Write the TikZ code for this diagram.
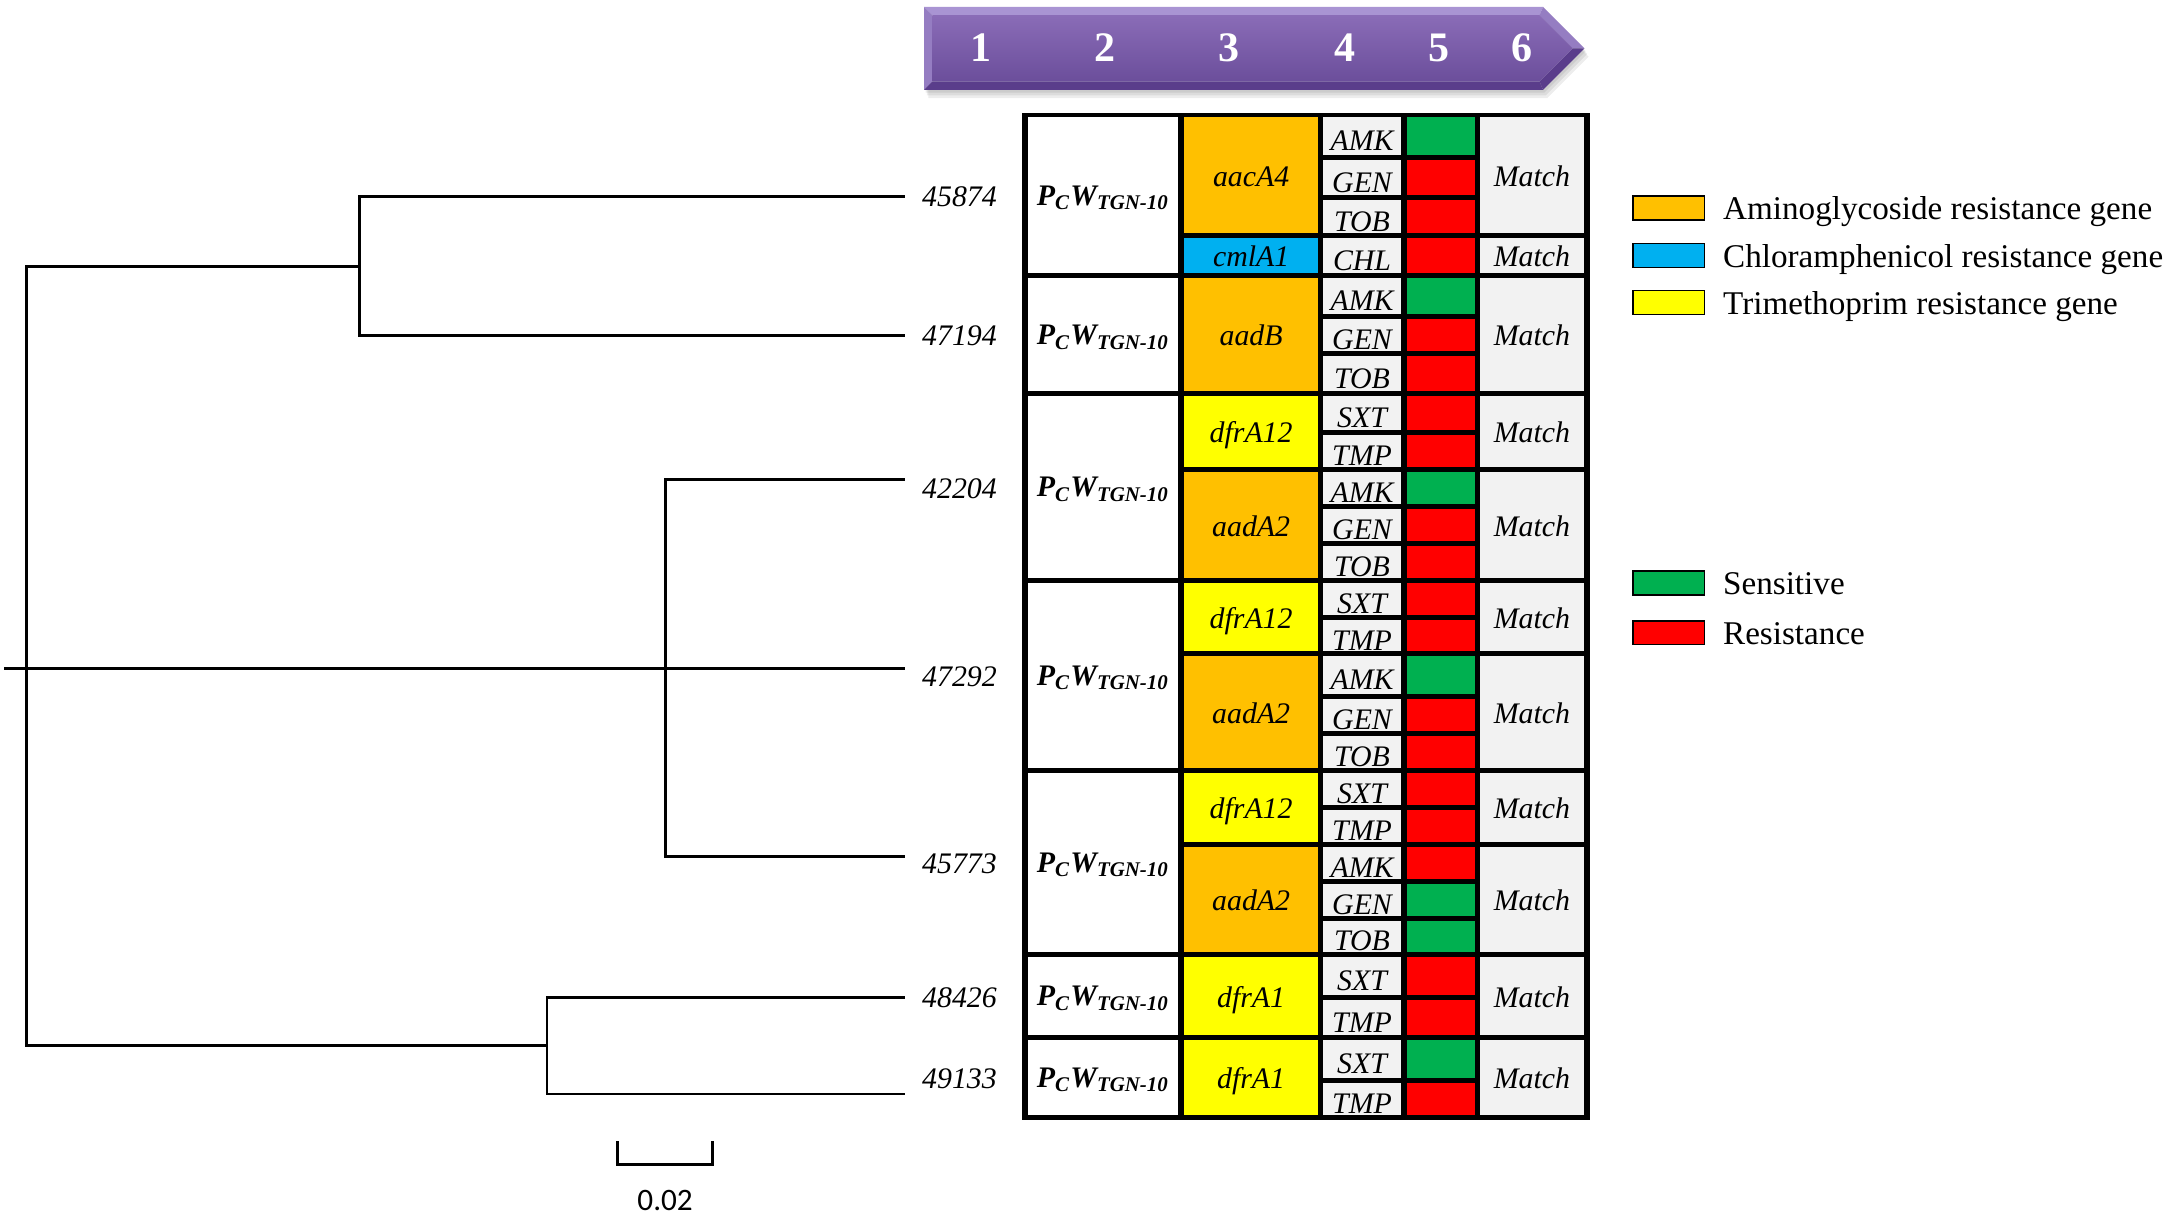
\documentclass[tikz,border=0pt]{standalone}
\usepackage{fontspec}
\setmainfont{Liberation Serif}
\newfontfamily\barfont{Carlito}

\definecolor{amino}{HTML}{FFC000}
\definecolor{chloram}{HTML}{00B0F0}
\definecolor{trimeth}{HTML}{FFFF00}
\definecolor{sens}{HTML}{00B050}
\definecolor{res}{HTML}{FF0000}
\definecolor{cellgrey}{HTML}{F2F2F2}
\definecolor{bevlight}{HTML}{A994D3}
\definecolor{bevside}{HTML}{957DC2}
\definecolor{bevdark}{HTML}{5A3D8B}
\definecolor{arrowtop}{HTML}{8A6CB7}
\definecolor{arrowbot}{HTML}{6B4E9B}

\begin{document}
\begin{tikzpicture}[x=0.5pt, y=-0.5pt,
    branch/.style={line width=1pt},
    celltext/.style={anchor=base, inner sep=0pt, font=\fontsize{10.8}{12}\selectfont\itshape},
    pctext/.style={anchor=base, inner sep=0pt, font=\fontsize{10.8}{12}\selectfont\bfseries\itshape},
    stepnum/.style={anchor=base, inner sep=0pt, text=white, font=\fontsize{15.2}{16}\selectfont\bfseries},
    legendbox/.style={draw=black, line width=0.5pt},
    legendtext/.style={anchor=base west, inner sep=0pt, font=\fontsize{12}{14}\selectfont}]

    % Page
    \fill[white] (0,0) rectangle (1568,880);
    \useasboundingbox (0,0) rectangle (1568,880);

    % Step arrow, shadow first
    \foreach \s in {2,4,6}
    {
        \fill[black, opacity=0.07] (669+\s/2,5+\s) -- (1117+\s/2,5+\s) -- (1147+\s/2,35+\s) -- (1117+\s/2,65+\s) -- (669+\s/2,65+\s) -- cycle;
    }
    % Bevel bands
    \fill[bevlight] (669,5) -- (1117,5) -- (1114.5,11) -- (675,11) -- cycle;
    \fill[bevside] (669,5) -- (675,11) -- (675,59) -- (669,65) -- cycle;
    \fill[bevdark] (669,65) -- (1117,65) -- (1114.5,59) -- (675,59) -- cycle;
    \fill[bevside] (1117,5) -- (1147,35) -- (1138.5,35) -- (1114.5,11) -- cycle;
    \fill[bevdark] (1147,35) -- (1117,65) -- (1114.5,59) -- (1138.5,35) -- cycle;
    % Arrow face
    \shade[top color=arrowtop, bottom color=arrowbot] (675,11) -- (1114.5,11) -- (1138.5,35) -- (1114.5,59) -- (675,59) -- cycle;
    \foreach \x [count=\i] in {710,800,890,974,1042,1102}
    {
        \node[stepnum] (num-\i) at (\x,44.6) {\i};
    }

    % Tree nodes
    \coordinate (stub) at (3,484);
    \coordinate (root) at (19,484);
    \coordinate (n1) at (260,193);
    \coordinate (n2) at (482,484);
    \coordinate (n3) at (396,757);
    % Leaf tips
    \foreach \y [count=\i] in {142,243,347,484,620,722,792}
    {
        \coordinate (leaf-\i) at (655,\y);
    }
    % Branches
    \draw[branch] (stub) -- (root) -- (n2);
    \draw[branch] (n1) -| (root) |- (n3);
    \draw[branch] (leaf-1) -| (n1) |- (leaf-2);
    \draw[branch] (leaf-3) -| (n2) |- (leaf-5);
    \draw[branch] (n2) -- (leaf-4);
    \draw[branch] (leaf-6) -| (n3) |- (leaf-7);

    % Scale bar
    \coordinate (bar-l) at (447,826);
    \coordinate (bar-r) at (516,826);
    \draw[branch] (bar-l) -- ++(0,17) -| (bar-r);
    \node[anchor=base, inner sep=0pt, font={\barfont\fontsize{11.3}{12}\selectfont}] (bar-txt) at (481.5,876) {0.02};

    % Table, black under everything
    \fill[black] (739.5,81.5) rectangle (1151,811);

    % Strains and promoter
    \foreach \ya/\yb/\strain [count=\i] in {83.2/199.7/45874, 199.7/285.1/47194, 285.1/420.2/42204, 420.2/557.8/47292, 557.8/691/45773, 691/751.3/48426, 751.3/809/49133}
    {
        \fill[white] (744.5,\ya+1.8) rectangle (853,\yb-1.8);
        \node[pctext] (pc-\i) at (798.5,{(\ya+\yb)/2+7}) {P\textsubscript{C}W\textsubscript{TGN-10}};
        \node[celltext, anchor=base east] (strain-\i) at (722,{(\ya+\yb)/2+8}) {\strain};
    }

    % Genes and match
    \foreach \ya/\yb/\gene/\kind [count=\i] in {83.2/170.2/aacA4/amino, 170.2/199.7/cmlA1/chloram, 199.7/285.1/aadB/amino, 285.1/339.9/dfrA12/trimeth, 339.9/420.2/aadA2/amino, 420.2/473.3/dfrA12/trimeth, 473.3/557.8/aadA2/amino, 557.8/611.3/dfrA12/trimeth, 611.3/691/aadA2/amino, 691/751.3/dfrA1/trimeth, 751.3/809/dfrA1/trimeth}
    {
        \fill[\kind] (857.4,\ya+1.8) rectangle (954,\yb-1.8);
        \fill[cellgrey] (1071.7,\ya+1.8) rectangle (1146.6,\yb-1.8);
        \node[celltext] (gene-\i) at (905.7,{(\ya+\yb)/2+8}) {\gene};
        \node[celltext] (match-\i) at (1109,{(\ya+\yb)/2+8}) {Match};
    }

    % Drugs and result
    \foreach \ya/\yb/\drug/\state [count=\i] in {83.2/114/AMK/sens, 114/143.3/GEN/res, 143.3/170.2/TOB/res, 170.2/199.7/CHL/res,
        199.7/229/AMK/sens, 229/255.8/GEN/res, 255.8/285.1/TOB/res,
        285.1/313.1/SXT/res, 313.1/339.9/TMP/res, 339.9/366.8/AMK/sens, 366.8/393.4/GEN/res, 393.4/420.2/TOB/res,
        420.2/446.8/SXT/res, 446.8/473.3/TMP/res, 473.3/504.3/AMK/sens, 504.3/531/GEN/res, 531/557.8/TOB/res,
        557.8/584.3/SXT/res, 584.3/611.3/TMP/res, 611.3/637.9/AMK/res, 637.9/664.8/GEN/sens, 664.8/691/TOB/sens,
        691/722.1/SXT/res, 722.1/751.3/TMP/res, 751.3/782.2/SXT/sens, 782.2/809/TMP/res}
    {
        \fill[cellgrey] (958,\ya+1.8) rectangle (1014.2,\yb-1.8);
        \fill[\state] (1018.2,\ya+1.8) rectangle (1067.7,\yb-1.8);
        \node[celltext] (drug-\i) at (986,{(\ya+\yb)/2+10.5}) {\drug};
    }

    % Legend
    \foreach \yc/\kind/\txt [count=\i] in {150.6/amino/Aminoglycoside resistance gene, 184.9/chloram/Chloramphenicol resistance gene, 219.1/trimeth/Trimethoprim resistance gene, 422/sens/Sensitive, 458.1/res/Resistance}
    {
        \draw[legendbox, fill=\kind] (1182,\yc-8.6) rectangle (1234,\yc+8.6);
        \node[legendtext] (key-\i) at (1247,\yc+8.4) {\txt};
    }
\end{tikzpicture}
\end{document}
